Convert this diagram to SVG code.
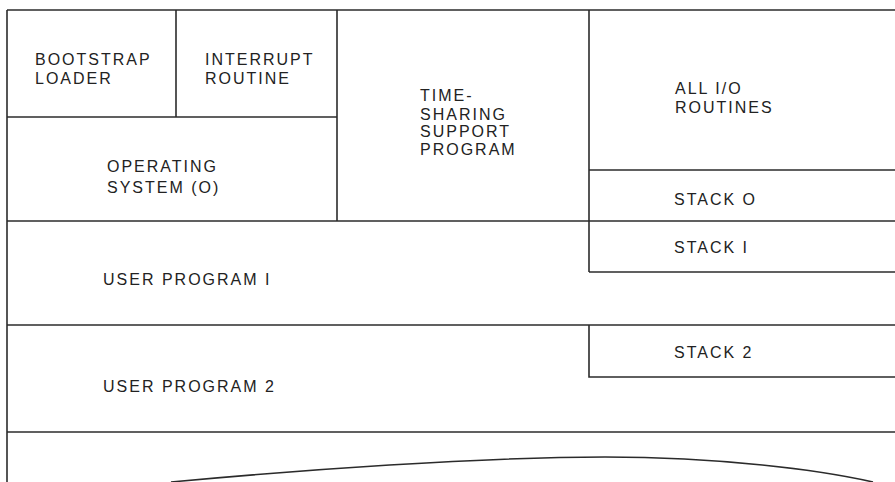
<svg xmlns="http://www.w3.org/2000/svg" width="895" height="482" viewBox="0 0 895 482">
<style>
.ln{stroke:#2b2b2b;stroke-width:1.6;fill:none}
text{font-family:"Liberation Sans",Arial,sans-serif;font-size:16px;letter-spacing:2px;fill:#222}
</style>
<rect width="895" height="482" fill="#fff"/>
<g id="connectors" class="ln">
<path d="M7 10H895"/>
<path d="M7 10V482"/>
<path d="M176 10V117"/>
<path d="M7 117H337"/>
<path d="M337 10V221"/>
<path d="M589 10V272"/>
<path d="M589 170H895"/>
<path d="M7 221H895"/>
<path d="M589 272H895"/>
<path d="M7 325H895"/>
<path d="M589 325V377H895"/>
<path d="M7 432H895"/>
<path d="M171 482C300 470 480 457 605 457C720 457 820 470 873 482"/>
</g>
<g id="bootstrap"><text x="35" y="65">BOOTSTRAP</text><text x="35" y="84">LOADER</text></g>
<g id="interrupt"><text x="205" y="65">INTERRUPT</text><text x="205" y="84">ROUTINE</text></g>
<g id="os"><text x="107" y="172">OPERATING</text><text x="107" y="193">SYSTEM (O)</text></g>
<g id="timesharing"><text x="420" y="101">TIME-</text><text x="420" y="120">SHARING</text><text x="420" y="137">SUPPORT</text><text x="420" y="155">PROGRAM</text></g>
<g id="io"><text x="675" y="94">ALL I/O</text><text x="675" y="113">ROUTINES</text></g>
<g id="stack0"><text x="674" y="205">STACK O</text></g>
<g id="stack1"><text x="674" y="253">STACK I</text></g>
<g id="user1"><text x="103" y="285">USER PROGRAM I</text></g>
<g id="stack2"><text x="674" y="358">STACK 2</text></g>
<g id="user2"><text x="103" y="392">USER PROGRAM 2</text></g>
</svg>
